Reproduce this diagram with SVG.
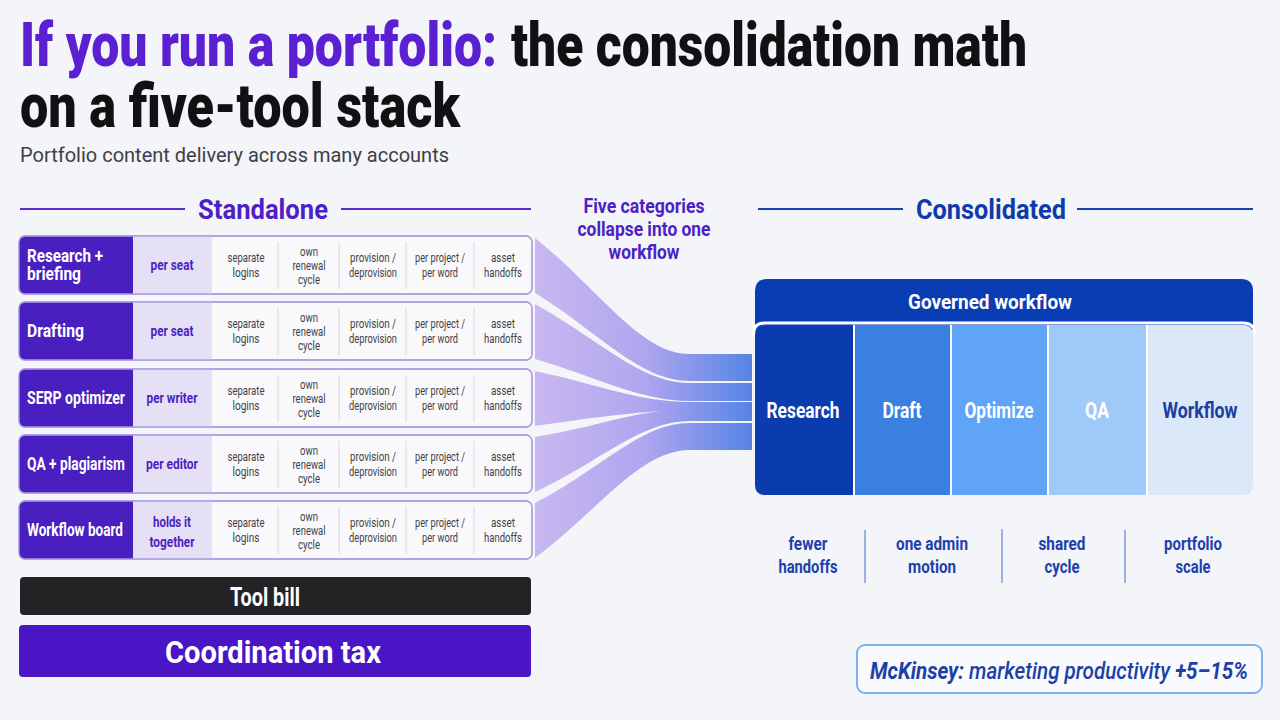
<svg xmlns="http://www.w3.org/2000/svg" xmlns:xlink="http://www.w3.org/1999/xlink" width="1280" height="720" viewBox="0 0 1280 720">
<style>
text{font-family:Roboto,"Liberation Sans",sans-serif}
.b{font-weight:700}
.title{font-size:61px;font-weight:900}
.dark{font-size:17.5px;font-weight:700;fill:#fff}
.lite{font-size:15px;font-weight:700;fill:#4a1fbf;text-anchor:middle}
.gray{font-size:12.5px;fill:#3f3f46;text-anchor:middle}
.col{font-size:22px;font-weight:700;fill:#fff;text-anchor:middle}
.ben{font-size:18px;font-weight:700;fill:#1d3fae;text-anchor:middle}
.row{fill:#f9f9fb;stroke:#ad9fe2;stroke-width:1.3}
.rowo{fill:none;stroke:#ad9fe2;stroke-width:1.3}
.dc{fill:#4a1fbf}
.lc{fill:#e6e0f7}
.div{stroke:#d8d8de;stroke-width:1}
.band{fill:url(#fg)}
</style>
<defs>
<linearGradient id="fg" gradientUnits="userSpaceOnUse" x1="535" y1="0" x2="752" y2="0">
<stop offset="0" stop-color="#c9b7f1"/>
<stop offset="0.5" stop-color="#b0a6ef"/>
<stop offset="1" stop-color="#5684e6"/>
</linearGradient>
<g id="cells">
<line class="div" x1="278" y1="242" x2="278" y2="289"/>
<line class="div" x1="339" y1="242" x2="339" y2="289"/>
<line class="div" x1="406" y1="242" x2="406" y2="289"/>
<line class="div" x1="474" y1="242" x2="474" y2="289"/>
<text class="gray" x="246" y="262" textLength="37" lengthAdjust="spacingAndGlyphs">separate</text>
<text class="gray" x="246" y="277" textLength="27" lengthAdjust="spacingAndGlyphs">logins</text>
<text class="gray" x="309" y="256" textLength="18" lengthAdjust="spacingAndGlyphs">own</text>
<text class="gray" x="309" y="270" textLength="33" lengthAdjust="spacingAndGlyphs">renewal</text>
<text class="gray" x="309" y="284" textLength="22" lengthAdjust="spacingAndGlyphs">cycle</text>
<text class="gray" x="373" y="262" textLength="46" lengthAdjust="spacingAndGlyphs">provision /</text>
<text class="gray" x="373" y="277" textLength="48" lengthAdjust="spacingAndGlyphs">deprovision</text>
<text class="gray" x="440" y="262" textLength="50" lengthAdjust="spacingAndGlyphs">per project /</text>
<text class="gray" x="440" y="277" textLength="36" lengthAdjust="spacingAndGlyphs">per word</text>
<text class="gray" x="503" y="262" textLength="24" lengthAdjust="spacingAndGlyphs">asset</text>
<text class="gray" x="503" y="277" textLength="38" lengthAdjust="spacingAndGlyphs">handoffs</text>
</g>
</defs>
<rect width="1280" height="720" fill="#f4f5f8"/>

<g id="title">
<text class="title" x="20" y="66" fill="#5a20d2" textLength="477" lengthAdjust="spacingAndGlyphs">If you run a portfolio:</text>
<text class="title" x="511" y="66" fill="#111114" textLength="516" lengthAdjust="spacingAndGlyphs">the consolidation math</text>
<text class="title" x="20" y="127" fill="#111114" textLength="440" lengthAdjust="spacingAndGlyphs">on a five-tool stack</text>
<text x="20" y="162" font-size="20" fill="#3d3f48" textLength="429" lengthAdjust="spacingAndGlyphs">Portfolio content delivery across many accounts</text>
</g>

<g id="standalone-header">
<line x1="20" y1="209" x2="185" y2="209" stroke="#5b2bd0" stroke-width="2"/>
<line x1="341" y1="209" x2="531" y2="209" stroke="#5b2bd0" stroke-width="2"/>
<text class="b" x="263" y="219" font-size="27" fill="#4d1fc4" text-anchor="middle" textLength="130" lengthAdjust="spacingAndGlyphs">Standalone</text>
</g>

<g id="connectors">
<path class="band" d="M535 238 C600 290 640 354 690 354 L752 354 L752 381 L690 381 C640 381 600 333 535 293 Z"/>
<path class="band" d="M535 304 C600 340 640 383 690 383 L752 383 L752 401 L690 401 C640 401 600 378 535 359 Z"/>
<path class="band" d="M535 371 C600 385 640 402 690 402 L752 402 L752 411.5 L690 411.5 L660 411 C620 414 590 418 535 426 Z"/>
<path class="band" d="M535 437 C590 428 620 416 660 411 L690 411 L752 411 L752 421 L690 421 C640 421 600 462 535 492 Z"/>
<path class="band" d="M535 503 C600 470 640 423 690 423 L752 423 L752 450 L690 450 C640 450 600 509 535 558 Z"/>
</g>

<g id="row-research">
<rect class="row" x="19" y="236" width="513" height="58" rx="6"/>
<path class="dc" d="M25 236 H133 V294 H25 Q19 294 19 288 V242 Q19 236 25 236 Z"/>
<rect class="lc" x="133" y="236" width="79" height="58"/>
<rect class="rowo" x="19" y="236" width="513" height="58" rx="6"/>
<text class="dark" x="27" y="262" textLength="76" lengthAdjust="spacingAndGlyphs">Research +</text>
<text class="dark" x="27" y="280" textLength="54" lengthAdjust="spacingAndGlyphs">briefing</text>
<text class="lite" x="172" y="270" textLength="43" lengthAdjust="spacingAndGlyphs">per seat</text>
<use xlink:href="#cells"/>
</g>

<g id="row-drafting">
<rect class="row" x="19" y="302" width="513" height="58" rx="6"/>
<path class="dc" d="M25 302 H133 V360 H25 Q19 360 19 354 V308 Q19 302 25 302 Z"/>
<rect class="lc" x="133" y="302" width="79" height="58"/>
<rect class="rowo" x="19" y="302" width="513" height="58" rx="6"/>
<text class="dark" x="27" y="337" textLength="57" lengthAdjust="spacingAndGlyphs">Drafting</text>
<text class="lite" x="172" y="336" textLength="43" lengthAdjust="spacingAndGlyphs">per seat</text>
<use xlink:href="#cells" transform="translate(0,66)"/>
</g>

<g id="row-serp">
<rect class="row" x="19" y="369" width="513" height="58" rx="6"/>
<path class="dc" d="M25 369 H133 V427 H25 Q19 427 19 421 V375 Q19 369 25 369 Z"/>
<rect class="lc" x="133" y="369" width="79" height="58"/>
<rect class="rowo" x="19" y="369" width="513" height="58" rx="6"/>
<text class="dark" x="27" y="404" textLength="98" lengthAdjust="spacingAndGlyphs">SERP optimizer</text>
<text class="lite" x="172" y="403" textLength="51" lengthAdjust="spacingAndGlyphs">per writer</text>
<use xlink:href="#cells" transform="translate(0,133)"/>
</g>

<g id="row-qa">
<rect class="row" x="19" y="435" width="513" height="58" rx="6"/>
<path class="dc" d="M25 435 H133 V493 H25 Q19 493 19 487 V441 Q19 435 25 435 Z"/>
<rect class="lc" x="133" y="435" width="79" height="58"/>
<rect class="rowo" x="19" y="435" width="513" height="58" rx="6"/>
<text class="dark" x="27" y="470" textLength="98" lengthAdjust="spacingAndGlyphs">QA + plagiarism</text>
<text class="lite" x="172" y="469" textLength="52" lengthAdjust="spacingAndGlyphs">per editor</text>
<use xlink:href="#cells" transform="translate(0,199)"/>
</g>

<g id="row-workflow">
<rect class="row" x="19" y="501" width="513" height="58" rx="6"/>
<path class="dc" d="M25 501 H133 V559 H25 Q19 559 19 553 V507 Q19 501 25 501 Z"/>
<rect class="lc" x="133" y="501" width="79" height="58"/>
<rect class="rowo" x="19" y="501" width="513" height="58" rx="6"/>
<text class="dark" x="27" y="536" textLength="96" lengthAdjust="spacingAndGlyphs">Workflow board</text>
<text class="lite" x="172" y="527" textLength="38" lengthAdjust="spacingAndGlyphs">holds it</text>
<text class="lite" x="172" y="547" textLength="45" lengthAdjust="spacingAndGlyphs">together</text>
<use xlink:href="#cells" transform="translate(0,265)"/>
</g>

<g id="tool-bill">
<rect x="20" y="577" width="511" height="38" rx="4" fill="#232326"/>
<text class="b" x="265" y="606" font-size="25" fill="#fff" text-anchor="middle" textLength="70" lengthAdjust="spacingAndGlyphs">Tool bill</text>
</g>
<g id="coordination-tax">
<rect x="19" y="625" width="512" height="52" rx="4" fill="#4a15c4"/>
<text class="b" x="273" y="663" font-size="32" fill="#fff" text-anchor="middle" textLength="216" lengthAdjust="spacingAndGlyphs">Coordination tax</text>
</g>

<g id="funnel-label">
<text class="b" x="644" y="213" font-size="19.5" fill="#4d1fc4" text-anchor="middle" textLength="121" lengthAdjust="spacingAndGlyphs">Five categories</text>
<text class="b" x="644" y="236" font-size="19.5" fill="#4d1fc4" text-anchor="middle" textLength="133" lengthAdjust="spacingAndGlyphs">collapse into one</text>
<text class="b" x="644" y="259" font-size="19.5" fill="#4d1fc4" text-anchor="middle" textLength="71" lengthAdjust="spacingAndGlyphs">workflow</text>
</g>

<g id="consolidated-header">
<line x1="758" y1="209" x2="903" y2="209" stroke="#1e40af" stroke-width="2"/>
<line x1="1077" y1="209" x2="1253" y2="209" stroke="#1e40af" stroke-width="2"/>
<text class="b" x="991" y="219" font-size="28" fill="#0f3ba8" text-anchor="middle" textLength="150" lengthAdjust="spacingAndGlyphs">Consolidated</text>
</g>

<g id="governed-workflow">
<path d="M767 279 H1241 Q1253 279 1253 291 V330 H755 V291 Q755 279 767 279 Z" fill="#0a3cb4"/>
<text class="b" x="990" y="309" font-size="21" fill="#fff" text-anchor="middle" textLength="164" lengthAdjust="spacingAndGlyphs">Governed workflow</text>
<path d="M753 335 Q753 323 765 323 H1243 Q1255 323 1255 335" fill="none" stroke="#fff" stroke-width="3"/>
<rect x="755" y="325" width="498" height="170" rx="10" fill="#fff"/>
<path d="M765 325 H853 V495 H765 Q755 495 755 485 V335 Q755 325 765 325 Z" fill="#0a3cb0"/>
<rect x="855" y="325" width="95" height="170" fill="#3b7fe0"/>
<rect x="952" y="325" width="95" height="170" fill="#5fa4f6"/>
<rect x="1049" y="325" width="97" height="170" fill="#9ec9f8"/>
<path d="M1148 325 H1243 Q1253 325 1253 335 V485 Q1253 495 1243 495 H1148 Z" fill="#dae8f9"/>
<text class="col" x="803" y="418" textLength="73" lengthAdjust="spacingAndGlyphs">Research</text>
<text class="col" x="902" y="418" textLength="39" lengthAdjust="spacingAndGlyphs">Draft</text>
<text class="col" x="999" y="418" textLength="69" lengthAdjust="spacingAndGlyphs">Optimize</text>
<text class="col" x="1097" y="418" textLength="24" lengthAdjust="spacingAndGlyphs">QA</text>
<text class="col" x="1200" y="418" style="fill:#1a3ea0" textLength="75" lengthAdjust="spacingAndGlyphs">Workflow</text>
</g>

<g id="benefits">
<text class="ben" x="808" y="550" textLength="39" lengthAdjust="spacingAndGlyphs">fewer</text>
<text class="ben" x="808" y="573" textLength="59" lengthAdjust="spacingAndGlyphs">handoffs</text>
<line x1="865" y1="530" x2="865" y2="583" stroke="#7d9bd6" stroke-width="1.5"/>
<text class="ben" x="932" y="550" textLength="72" lengthAdjust="spacingAndGlyphs">one admin</text>
<text class="ben" x="932" y="573" textLength="48" lengthAdjust="spacingAndGlyphs">motion</text>
<line x1="1002" y1="529" x2="1002" y2="583" stroke="#7d9bd6" stroke-width="1.5"/>
<text class="ben" x="1062" y="550" textLength="47" lengthAdjust="spacingAndGlyphs">shared</text>
<text class="ben" x="1062" y="573" textLength="35" lengthAdjust="spacingAndGlyphs">cycle</text>
<line x1="1125" y1="530" x2="1125" y2="583" stroke="#7d9bd6" stroke-width="1.5"/>
<text class="ben" x="1193" y="550" textLength="58" lengthAdjust="spacingAndGlyphs">portfolio</text>
<text class="ben" x="1193" y="573" textLength="35" lengthAdjust="spacingAndGlyphs">scale</text>
</g>

<g id="mckinsey">
<rect x="857" y="645" width="405" height="48" rx="8" fill="#f8fafd" stroke="#80b0ec" stroke-width="2"/>
<text x="1059" y="679" font-size="23" font-style="italic" fill="#1c3fa8" text-anchor="middle" textLength="378" lengthAdjust="spacingAndGlyphs"><tspan font-weight="700">McKinsey:</tspan><tspan font-weight="500"> marketing productivity </tspan><tspan font-weight="700">+5–15%</tspan></text>
</g>
</svg>
